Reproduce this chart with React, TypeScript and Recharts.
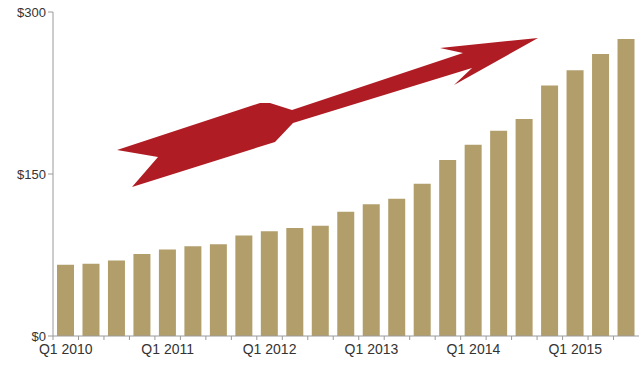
import React from 'react';
import { BarChart, Bar, XAxis, YAxis } from 'recharts';

const quarters = [
  'Q1 2010', 'Q2 2010', 'Q3 2010', 'Q4 2010',
  'Q1 2011', 'Q2 2011', 'Q3 2011', 'Q4 2011',
  'Q1 2012', 'Q2 2012', 'Q3 2012', 'Q4 2012',
  'Q1 2013', 'Q2 2013', 'Q3 2013', 'Q4 2013',
  'Q1 2014', 'Q2 2014', 'Q3 2014', 'Q4 2014',
  'Q1 2015', 'Q2 2015', 'Q3 2015'
];

const values = [
  66, 67, 70, 76, 80, 83, 85, 93, 97, 100, 102, 115,
  122, 127, 141, 163, 177, 190, 201, 232, 246, 261, 275
];

const yTicks = [0, 150, 300];

const data = quarters.map((q, i) => ({ quarter: q, value: values[i] }));

const W = 639;
const H = 365;
const LEFT = 53;
const BAND = (W - LEFT) / quarters.length;

// ticks sit between the bars, labels only on Q1
const XTick = (props: any) => {
  const { x, y, payload, index } = props;
  const bx = x - BAND / 2;
  return (
    <g>
      <line x1={bx} y1={y - 8} x2={bx} y2={y - 4} stroke="#9a9a9a" />
      {index % 4 === 0 && (
        <text x={x} y={y + 10} textAnchor="middle" fontSize={14} fill="#333">
          {payload.value}
        </text>
      )}
    </g>
  );
};

const arrow = [
  [117, 150], [260, 103], [270, 103], [292, 110], [463, 53], [440, 48],
  [538, 38], [454, 85], [472, 68], [293, 123], [275, 142], [132, 187], [158, 157]
];

export default function App() {
  return (
    <div style={{ position: 'absolute', left: 0, top: 0, width: W, height: H, background: '#fff', fontFamily: 'Liberation Sans, Arial, sans-serif' }}>
      <BarChart width={W} height={H} data={data} margin={{ top: 12, right: 0, bottom: 4, left: 0 }} barSize={17}>
        <XAxis
          dataKey="quarter"
          interval={0}
          tick={<XTick />}
          tickLine={false}
          stroke="#9a9a9a"
          height={25}
        />
        <YAxis
          domain={[0, 300]}
          ticks={yTicks}
          width={53}
          stroke="#9a9a9a"
          tickSize={5}
          tickFormatter={(v: number) => `$${v}`}
          tick={{ fontSize: 13, fill: '#333' }}
        />
        <Bar dataKey="value" fill="#b19e6b" isAnimationActive={false} />
      </BarChart>
      <svg width={W} height={H} style={{ position: 'absolute', left: 0, top: 0, pointerEvents: 'none' }}>
        <polygon points={arrow.map(p => p.join(',')).join(' ')} fill="#b01c24" />
      </svg>
    </div>
  );
}
